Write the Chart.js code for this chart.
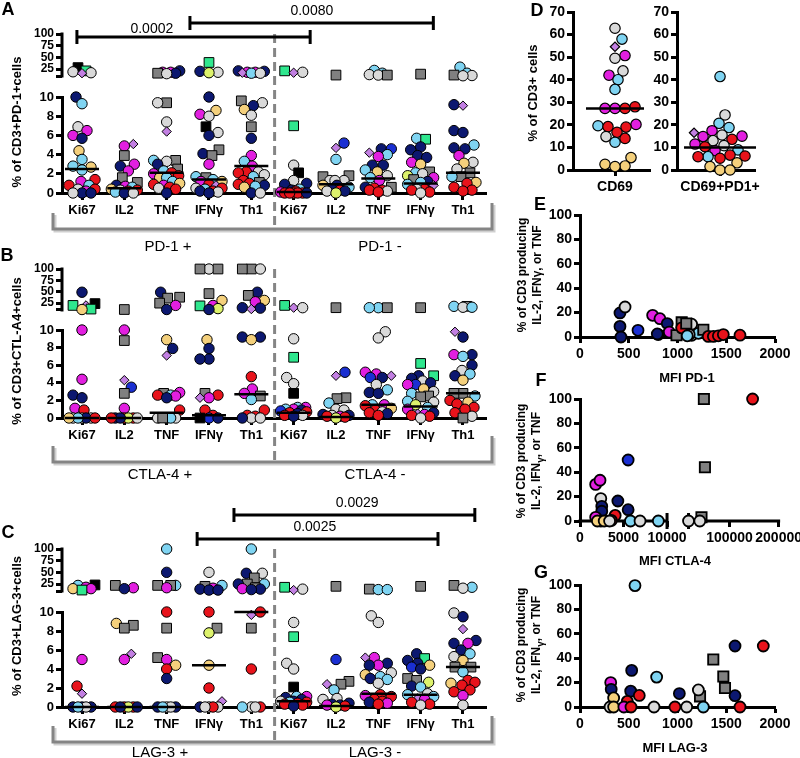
<!DOCTYPE html>
<html>
<head>
<meta charset="utf-8">
<script src="https://cdn.jsdelivr.net/npm/chart.js@4.4.0/dist/chart.umd.min.js"></script>
<style>
  body { margin: 0; background: #fff; }
  #fig { position: relative; width: 800px; height: 758px; overflow: hidden; font-family: "Liberation Sans", Arial, sans-serif; color: #000; }
  canvas { position: absolute; }
  .t { position: absolute; transform: translate(-50%, -50%); white-space: nowrap; }
  .rot { transform: translate(-50%, -50%) rotate(-90deg); text-align: center; }
  .letter { font-weight: bold; font-size: 18px; }
  .ytitle { font-weight: bold; font-size: 13px; }
  .ytitle2 { font-weight: bold; font-size: 12px; line-height: 15px; }
  .xtitle { font-weight: bold; font-size: 13px; }
  .group { font-size: 15px; }
</style>
</head>
<body>
<div id="fig">
  <canvas id="cA" width="500" height="260" style="left:0;top:0"></canvas>
  <canvas id="cB" width="500" height="250" style="left:0;top:230px"></canvas>
  <canvas id="cC" width="500" height="278" style="left:0;top:480px"></canvas>
  <canvas id="cD1" width="120" height="200" style="left:540px;top:0"></canvas>
  <canvas id="cD2" width="150" height="200" style="left:650px;top:0"></canvas>
  <canvas id="cE" width="255" height="190" style="left:545px;top:200px"></canvas>
  <canvas id="cF" width="260" height="170" style="left:545px;top:385px"></canvas>
  <canvas id="cG" width="255" height="188" style="left:545px;top:570px"></canvas>

  <div class="t letter" style="left:8px;top:9px">A</div>
  <div class="t letter" style="left:7px;top:255px">B</div>
  <div class="t letter" style="left:8px;top:532px">C</div>
  <div class="t letter" style="left:537px;top:10px">D</div>
  <div class="t letter" style="left:540px;top:204px">E</div>
  <div class="t letter" style="left:541px;top:380px">F</div>
  <div class="t letter" style="left:541px;top:572px">G</div>

  <div class="t rot ytitle" style="left:16px;top:122px">% of CD3+PD-1+cells</div>
  <div class="t rot ytitle" style="left:16px;top:351px">% of CD3+CTL-A4+cells</div>
  <div class="t rot ytitle" style="left:16px;top:626px">% of CD3+LAG-3+cells</div>
  <div class="t rot ytitle" style="left:532px;top:93px">% of CD3+ cells</div>
  <div class="t rot ytitle2" style="left:530px;top:275px">% of CD3 producing<br>IL-2, IFNγ, or TNF</div>
  <div class="t rot ytitle2" style="left:531px;top:461px">% of CD3 producing<br>IL-2, IFN<sub>γ</sub>, or TNF</div>
  <div class="t rot ytitle2" style="left:531px;top:645px">% of CD3 producing<br>IL-2, IFN<sub>γ</sub>, or TNF</div>

  <div class="t xtitle" style="left:687px;top:377px">MFI PD-1</div>
  <div class="t xtitle" style="left:675px;top:560px">MFI CTLA-4</div>
  <div class="t xtitle" style="left:675px;top:747px">MFI LAG-3</div>

  <div class="t group" style="left:168px;top:245px">PD-1 +</div>
  <div class="t group" style="left:380px;top:245px">PD-1 -</div>
  <div class="t group" style="left:160px;top:473px">CTLA-4 +</div>
  <div class="t group" style="left:375px;top:473px">CTLA-4 -</div>
  <div class="t group" style="left:160px;top:751px">LAG-3 +</div>
  <div class="t group" style="left:375px;top:751px">LAG-3 -</div>
</div>

<script>
// ---- data ----
// categories on the x axis of A, B and C (first five: marker +, last five: marker -)
const cats = ['Ki67', 'IL2', 'TNF', 'IFNγ', 'Th1', 'Ki67', 'IL2', 'TNF', 'IFNγ', 'Th1'];

// each token = donor code + value (%)
const aPoints = [
  ['K28','T21','W19','W17','D16','N10','C9.3','W6.9','M6.5','M6','N5.7','Y4.4','C3.5','C2.8','Y2.7','C2.4','R1.4','M1.2','R0.8','C0.8','W0.4','R0.4','M0.2','N0','N0','W0'],
  ['D5.1','M4.9','G3.9','M3','N2.8','M2.3','G1.6','G1.1','N0.8','M0.7','C0.6','Y0.4','W0.3','R0.3','R0.2','C0.1','N0','W0'],
  ['N21','M18','M18','N16','G16','W15','G9.4','W9.4','W7.4','D6.4','G3.4','C3.4','W3.3','N3','G2.5','C2.3','R2.1','M2','R1.8','Y1.6','C1.6','C1.2','Y1','R0.9','M0.8','R0.6','W0.5','R0.4','N0'],
  ['T39','N20','W18','L17','N10','Y8.6','M8.2','W8','K6.9','W6.3','N6','G4.5','N4.1','G3.9','M3','C1.7','G1.6','C1.4','M1.2','Y1.2','R0.9','D0.8','R0.5','W0.5','C0.4','N0.2','R0.2','W0.1','N0'],
  ['N21','N20','M18','M18','D17','C16','W16','G9.6','W9.4','N9.1','Y8.7','W8.1','G6.9','N5.7','M3.9','C3.3','M2.8','R2.2','W2.2','R2.1','W1.9','C1.7','R1.3','G1.1','R1','R0.9','N0.8','C0.7','Y0.6','N0','W0'],
  ['T21','W18','D17','T7','W2.9','K2.1','W1.3','N1','N0.9','C0.4','N0.3','R0.2','M0.1','R0','R0','R0','R0','R0','N0'],
  ['G12','B5.2','D4.7','C3.5','G1.8','G1.7','W1.3','W1.3','W1.3','Y0.8','N0.8','C0.6','N0.4','R0.3','N0.2','W0.2','L0'],
  ['C22','C16','W13','W12','G12','N4.6','B4.6','D4.2','C4','M3.8','N2.9','N2.9','C2.4','Y2.2','W1.8','C1.6','M1.3','G0.6','N0.6','R0.5','R0.3','R0.3','W0.2','R0.1'],
  ['G14','C5.7','T5.6','N4.8','N4.5','N3.9','N3.7','M3.2','Y3','G2.2','C2.1','W2','L1.8','M1.6','G1.4','N1.2','C1.1','C0.9','D0.8','R0.4','W0.4','R0.3','R0.1','W0'],
  ['C29','C16','G12','W11','W10.5','N9.2','D9.1','N6.5','N6.3','C5','N4.7','N4.6','M3.9','W3.2','Y3.1','W2.5','G2.1','G1.7','C1.7','Y1.1','R1','R0.6','R0.3','R0.2']
];
const aMedians = [2.5, 0.5, 2.1, 1.4, 2.8, 0.1, 0.9, 1.5, 1.0, 2.1];

const bPoints = [
  ['N49','K24','T20','D20','T12','Y11','M10','M4.4','N2.6','N2.3','M1.1','R0.9','W0','W0','W0','N0','C0','R0','Y0'],
  ['G11','M10','G8.8','D4.3','B3.5','G2.8','M1.1','R0','R0','N0','L0','N0','W0','R0'],
  ['N49','G38','G36','G25','M20','N11','Y8.9','N7.9','D7.1','M2.9','G2.8','R2.6','C2.6','M2.5','N2.3','R0.9','W0','W0','W0','C0','G0'],
  ['W100','G100','G100','G46','Y31','M20','T19','L13','N11','Y8.9','N7.9','N6.7','N6.7','G2.8','R2.6','M2.3','D2.3','R0.9','R0.3','B0','N0','K0'],
  ['G100','G100','W100','N49','G42','Y31','M28','N15','N14','D12','N9.2','N9.2','Y8.9','R4.7','M3.3','M2.8','G2.5','C2.1','R0.9','R0.3','R0.2','W0','W0','N0'],
  ['T20','D15','W15','W9','T6.9','W4.6','W3.9','K2.8','M1.2','C1.2','M1','C1','N0.9','B0.8','R0.7','R0.6','N0.5','W0.3','R0.3','N0.2'],
  ['G15','B5.2','D4.8','G2.3','G2.2','C1.7','W1','W0.9','N0.4','W0.3','N0.3','R0.2','M0.2','R0.1','L0'],
  ['C15','G15','C15','W9.8','W9.1','M5.2','M5','D4.8','N4.6','B4.6','W3.8','C3.2','N2.9','N2.8','M1.5','C1.5','R1.4','Y1.1','R0.9','W0.7','R0.6','N0.5','R0.3'],
  ['G15','T6.2','T4.8','N4.8','N4.5','W4.2','N4','B3.8','M3.8','Y3.3','W3','C2.8','G2.5','G2.4','C1.9','W1.8','L1.5','C1.2','M1','N0.6','D0.5','M0.4','R0.3','R0.2','W0'],
  ['C18','G18','W16','C16','D9.8','N9.2','N7.2','M7.2','C7','N6','W5.4','C5','N4.8','Y4.3','G2.8','G2.8','C2.5','R2','Y1.8','R1.6','R1.2','R1','R0.6','W0.2','G0']
];
const bMedians = [0, 0, 0.6, 0.3, 2.7, 0.6, 0.1, 1.5, 1.3, 2.8];

const cPoints = [
  ['K23','C22','M18','M15','Y15','T12','M5','R2.2','D1.4','N0','N0','N0','W0','C0'],
  ['G22','M17','N15','Y8.8','G8.6','G8.3','D5.6','M5','R0','R0','R0','L0','N0','N0'],
  ['C100','N50','C22','G22','G22','M17','R10','G8.3','G5.2','M5','Y4.4','R4','N3','W0','N0','N0','W0','C0'],
  ['W50','C22','G20','M16','N14','N12','N12','R10','G8.3','L7.8','Y4.4','R2','D0.6','W0','W0','N0','R0','W0'],
  ['C100','N48','W48','G38','G25','C25','N25','G17','M15','N14','N13','R10','D9.7','G8.3','R4','W0','R0','C0','W0'],
  ['T18','W14','D12','W8.9','T7.4','W4.6','W4','K2.1','M1.1','C1.1','N1','N0.8','W0.6','N0.6','C0.5','R0.5','R0.4','R0.3','R0.2','N0.1'],
  ['G20','B5','G2.7','G2.4','D2.4','C1.8','W0.9','W0.8','N0.4','N0.3','M0.2','N0.2','R0.1','L0'],
  ['G14','C13','C13','W9.6','W8.9','M5.2','D5.2','N4.6','M4.4','N4.4','W3.6','Y3.4','C3.2','N3','C2.9','W2.5','R1.3','M1.2','R1.1','R0.8','R0.6','N0.5','M0.4','R0.3'],
  ['G20','N5.6','T5.1','N4.9','N4.6','Y4.4','B4.2','N4','G3','G2.8','L2.6','N2.2','C2.1','W1.4','C1.3','C1.1','D0.9','M0.8','R0.5','R0.3','W0.2'],
  ['G22','C18','W16','W9.9','N9.5','D8.2','N7','M6.7','N6.7','N6','C5.6','W5.3','Y4.9','G4.2','G4.2','C3.7','R2.8','R2.6','Y2.5','R2.3','R1.8','R1.6','M1.2','W0.2']
];
const cMedians = [0, 0, 0, 4.4, 10, 0.6, 0.1, 1.4, 1.3, 4.2];

// D: % of CD3+ cells
const dCd69 = ['W62.8','C58','D54.6','M50.7','W49.5','W43.9','M42','C40','C35.7','R28','M27.3','R27.3','M27.3','M20.2','C19.6','R19.2','R19','R16.7','W14.8','R14','C12.3','Y5.5','Y2.5','Y1.8','Y1.5'];
const dCd69Pd1 = ['C41.4','W24.4','C20.7','C18.8','M17.4','D16.5','W15.5','M15','M14.8','R13.6','W13','M11.5','W10.8','R10.3','C8.9','M8.6','R6.6','R6.2','C5.9','R5.9','R5.2','Y3.2','Y1.5','Y0','Y0'];
const dMedians = [27.3, 10];

// E: MFI PD-1 vs % producing
const eMfi = [410, 462, 410, 420, 595, 745, 820, 895, 915, 803, 793, 990, 1043, 1043, 1145, 1090, 1145, 1214, 1265, 1120, 1100, 1316, 1368, 1419, 1470, 1641];
const ePct = [19.7, 24.6, 8.7, 0, 5.5, 17.8, 15, 11, 4, 2, 2.5, 1.5, 12, 7.5, 10.5, 11, 1.4, 3, 6, 2, 1, 0.5, 0.5, 1, 2, 1.5];
const eDonor = 'NWNNBMMNMYNGGRWGWCGWCRRRRR';

// F: MFI CTLA-4 vs % producing
const fMfi = [1800, 2300, 2390, 2500, 2500, 4350, 5530, 5530, 4040, 3600, 1800, 2400, 2000, 2780, 5800, 6900, 9000, 3400, 47900, 50000, 43000, 39600, 16667, 147000];
const fPct = [30, 33.4, 18.4, 12, 8, 16.4, 50, 9.3, 4.6, 0.5, 3, 0, 0, 0, 0, 0, 0, 0, 100, 44, 3, 0, 0, 100];
const fDonor = 'MMWNNNBNRRMWYYCWCWGGGWWR';

// G: MFI LAG-3 vs % producing
const gMfi = [564, 1590, 1880, 1367, 1470, 1487, 1231, 786, 530, 315, 320, 520, 345, 608, 485, 1214, 1019, 1590, 308, 345, 450, 523, 759, 974, 1094, 1641, 1265];
const gPct = [99.5, 50, 50, 39, 25, 15.5, 8.7, 24.5, 30, 20, 14.5, 13, 7.4, 9.5, 4.6, 14, 11, 9.3, 0, 0, 0, 0, 0, 0, 0, 0, 0];
const gDonor = 'CNRGGGGCNMNNYRRWNNWYMRWRWRC';

// ---- styles ----
const FONT = '"Liberation Sans", Arial, sans-serif';
Chart.defaults.font.family = FONT;
Chart.defaults.color = '#000';
Chart.defaults.animation = false;

const donors = {
  R: ['#e8131b', 'circle'],
  N: ['#0c1870', 'circle'],
  B: ['#1a2fd2', 'circle'],
  C: ['#7fd4f2', 'circle'],
  W: ['#d9d9d9', 'circle'],
  G: ['#808080', 'rect'],
  M: ['#e21fe0', 'circle'],
  Y: ['#f4d07c', 'circle'],
  L: ['#ddf26c', 'circle'],
  T: ['#2fe78e', 'rect'],
  D: ['#c27fe2', 'rectRot'],
  K: ['#000000', 'rect']
};

function pointOpts(r, bw) {
  const st = c => donors[(c.raw && c.raw.d) || 'W'];
  return {
    pointStyle: c => st(c)[1],
    pointRadius: c => { const s = st(c)[1]; return s === 'rect' ? r * 1.32 : s === 'rectRot' ? r * 0.9 : r; },
    pointBackgroundColor: c => st(c)[0],
    pointBorderColor: '#000',
    pointBorderWidth: bw,
    clip: false
  };
}

function seg(ctx, pts) {
  ctx.beginPath();
  pts.forEach(([px, py], i) => i ? ctx.lineTo(px, py) : ctx.moveTo(px, py));
  ctx.stroke();
}

// spread points sideways so they don't pile up (pixel units)
function swarm(list, k, minD, maxOff) {
  const order = list.map((p, i) => i).sort((i, j) => list[i].v - list[j].v);
  const placed = [], off = [];
  order.forEach((i, n) => {
    const py = list[i].v * k;
    let best = 0, bestGap = -1, done = false;
    for (let s = 0; s <= maxOff && !done; s++) {
      for (const o of (s ? (n % 2 ? [s, -s] : [-s, s]) : [0])) {
        let gap = Infinity;
        for (const q of placed) gap = Math.min(gap, Math.hypot(o - q[0], py - q[1]));
        if (gap >= minD) { best = o; done = true; break; }
        if (gap > bestGap) { bestGap = gap; best = o; }
      }
    }
    placed.push([best, py]);
    off[i] = best;
  });
  return off;
}

const parse = t => ({d: t[0], v: parseFloat(t.slice(1))});
const tickFont = (size) => ({size: size, weight: 'bold'});
const tickGrid = (len) => ({display: true, drawOnChartArea: false, drawTicks: true, tickLength: len, tickWidth: 3, color: '#000', tickColor: '#000'});

// ---- A, B, C: broken-axis dot plots ----
const KX = 42.33;
function dotPanel(id, points, medians, cfg) {
  const kTop = cfg.topH / (100 - cfg.topMin), kBot = cfg.botH / 10;
  const top = [], bot = [];
  points.forEach((list, ci) => {
    const pts = list.map(parse);
    [[pts.filter(p => p.v <= 10), kBot, bot], [pts.filter(p => p.v > 10), kTop, top]].forEach(([arr, k, out]) => {
      const off = swarm(arr, k, 9, 13);
      arr.forEach((p, i) => out.push({x: ci + off[i] / KX, y: p.v, d: p.d}));
    });
  });

  const deco = {
    id: 'dotDeco',
    beforeDatasetsDraw(chart) {
      const {ctx, chartArea: a} = chart;
      const {yTop} = chart.scales;
      ctx.save();
      ctx.strokeStyle = '#000';
      ctx.lineWidth = 3;
      seg(ctx, [[a.left, yTop.getPixelForValue(100) - 1.5], [a.left, yTop.getPixelForValue(10) + 1.5]]);
      // group bracket under the labels
      const by = a.bottom + cfg.brY, bl = a.left - 9, br = a.right + 6;
      ctx.strokeStyle = '#cfcfcf';
      seg(ctx, [[bl + 2, by - 14], [bl + 2, by + 2], [br + 2, by + 2], [br + 2, by - 24]]);
      ctx.strokeStyle = '#858585';
      seg(ctx, [[bl, by - 16], [bl, by], [br, by], [br, by - 26]]);
      ctx.setLineDash([9, 5]);
      const dx = chart.scales.x.getPixelForValue(4.55);
      seg(ctx, [[dx, a.top], [dx, by]]);
      ctx.restore();
    },
    afterDatasetsDraw(chart) {
      const {ctx, chartArea: a} = chart;
      const {x, yTop, yBot} = chart.scales;
      ctx.save();
      ctx.strokeStyle = '#000';
      ctx.lineWidth = 2.5;
      medians.forEach((m, i) => {
        const py = (m > 10 ? yTop : yBot).getPixelForValue(m), px = x.getPixelForValue(i);
        seg(ctx, [[px - 17, py], [px + 17, py]]);
      });
      ctx.lineWidth = 3;
      ctx.fillStyle = '#000';
      ctx.font = '14px ' + FONT;
      ctx.textAlign = 'center';
      ctx.textBaseline = 'middle';
      cfg.sig.forEach(b => {
        const py = a.top - b.dy, x1 = x.getPixelForValue(b.from), x2 = x.getPixelForValue(b.to);
        seg(ctx, [[x1, py], [x2, py]]);
        seg(ctx, [[x1, py - 7], [x1, py + 7]]);
        seg(ctx, [[x2, py - 7], [x2, py + 7]]);
        ctx.fillText(b.text, x.getPixelForValue(b.at), py - b.ly);
      });
      ctx.restore();
    }
  };

  new Chart(document.getElementById(id), {
    type: 'scatter',
    data: {datasets: [
      {data: bot, yAxisID: 'yBot', ...pointOpts(5.2, 1)},
      {data: top, yAxisID: 'yTop', ...pointOpts(5.2, 1)}
    ]},
    options: {
      responsive: false,
      events: [],
      layout: {padding: cfg.pad},
      plugins: {legend: {display: false}, tooltip: {enabled: false}},
      scales: {
        x: {
          type: 'linear', min: -0.4725, max: 9.544,
          afterBuildTicks: s => { s.ticks = cats.map((c, i) => ({value: i})); },
          afterFit: s => { s.height = 30; },
          ticks: {callback: v => cats[v], font: tickFont(13), padding: 3, autoSkip: false, maxRotation: 0},
          grid: tickGrid(7),
          border: {display: true, width: 3, color: '#000'}
        },
        yBot: {
          type: 'linear', position: 'left', stack: 'y', stackWeight: cfg.botH, min: 0, max: 10,
          afterBuildTicks: s => { s.ticks = [0, 2, 4, 6, 8, 10].map(v => ({value: v})); },
          afterFit: s => { s.width = 50; },
          ticks: {font: tickFont(13), padding: 2, autoSkip: false},
          grid: tickGrid(6),
          border: {display: true, width: 3, color: '#000'}
        },
        yTop: {
          type: 'linear', position: 'left', stack: 'y', stackWeight: cfg.topH, min: cfg.topMin, max: 100,
          afterBuildTicks: s => { s.ticks = [10, 25, 50, 75, 100].map(v => ({value: v})); },
          afterFit: s => { s.width = 50; },
          ticks: {font: tickFont(12), padding: 2, autoSkip: false, callback: v => v === 10 ? '' : String(v)},
          grid: tickGrid(6),
          border: {display: false}
        }
      }
    },
    plugins: [deco]
  });
}

dotPanel('cA', aPoints, aMedians, {
  topH: 63, botH: 96, topMin: -35, brY: 36,
  pad: {left: 12, right: 14, top: 34, bottom: 37},
  sig: [
    {from: -0.12, to: 5.39, at: 1.65, text: '0.0002', dy: -3, ly: 8},
    {from: 2.55, to: 8.3, at: 5.43, text: '0.0080', dy: 11, ly: 12}
  ]
});
dotPanel('cB', bPoints, bMedians, {
  topH: 61, botH: 88, topMin: -34, brY: 44,
  pad: {left: 12, right: 14, top: 39, bottom: 32},
  sig: []
});
dotPanel('cC', cPoints, cMedians, {
  topH: 63, botH: 95, topMin: -35, brY: 35,
  pad: {left: 12, right: 14, top: 69, bottom: 21},
  sig: [
    {from: 3.59, to: 9.28, at: 6.5, text: '0.0029', dy: 34, ly: 12},
    {from: 2.72, to: 8.41, at: 5.5, text: '0.0025', dy: 10, ly: 12}
  ]
});

// ---- D: CD69 dot plots ----
function dPanel(id, tokens, median, cfg) {
  const pts = tokens.map(parse);
  const off = swarm(pts, 158 / 70, 10, 26);
  const data = pts.map((p, i) => ({x: off[i] / 35, y: p.v, d: p.d}));
  const deco = {
    id: 'dDeco',
    afterDatasetsDraw(chart) {
      const {ctx} = chart;
      const {x, y} = chart.scales;
      const py = y.getPixelForValue(median), px = x.getPixelForValue(0);
      ctx.save();
      ctx.strokeStyle = '#000';
      ctx.lineWidth = 2.5;
      seg(ctx, [[px - cfg.half, py], [px + cfg.half, py]]);
      ctx.restore();
    }
  };
  new Chart(document.getElementById(id), {
    type: 'scatter',
    data: {datasets: [{data: data, ...pointOpts(5.2, 1.2)}]},
    options: {
      responsive: false,
      events: [],
      layout: {padding: cfg.pad},
      plugins: {legend: {display: false}, tooltip: {enabled: false}},
      scales: {
        x: {
          type: 'linear', min: cfg.xmin, max: 1,
          afterBuildTicks: s => { s.ticks = [{value: 0}]; },
          afterFit: s => { s.height = 30; },
          ticks: {callback: () => cfg.label, font: tickFont(14), padding: 3, maxRotation: 0},
          grid: tickGrid(6),
          border: {width: 3, color: '#000'}
        },
        y: {
          type: 'linear', min: 0, max: 70,
          ticks: {stepSize: 10, font: tickFont(14), padding: 2},
          afterFit: s => { s.width = cfg.yw; },
          grid: tickGrid(6),
          border: {width: 3, color: '#000'}
        }
      }
    },
    plugins: [deco]
  });
}
dPanel('cD1', dCd69, dMedians[0], {label: 'CD69', xmin: -1.2, yw: 33, half: 29, pad: {left: 0, right: 10, top: 12, bottom: 0}});
dPanel('cD2', dCd69Pd1, dMedians[1], {label: 'CD69+PD1+', xmin: -1.23, yw: 27, half: 36, pad: {left: 0, right: 45, top: 12, bottom: 0}});

// ---- E, F, G: MFI scatter plots ----
function xAxis(min, max, ticks, extra) {
  return Object.assign({
    type: 'linear', position: 'bottom', min: min, max: max,
    afterBuildTicks: s => { s.ticks = ticks.map(v => ({value: v})); },
    afterFit: s => { s.height = 30; },
    ticks: {font: tickFont(14), padding: 3, autoSkip: false, maxRotation: 0, callback: v => String(v)},
    grid: tickGrid(6),
    border: {width: 3, color: '#000'}
  }, extra || {});
}
const yPct = {
  type: 'linear', min: 0, max: 100,
  ticks: {stepSize: 20, font: tickFont(14), padding: 2},
  afterFit: s => { s.width = 35; },
  grid: tickGrid(6),
  border: {width: 3, color: '#000'}
};
const baseOpts = (pad, scales) => ({
  responsive: false,
  events: [],
  layout: {padding: pad},
  plugins: {legend: {display: false}, tooltip: {enabled: false}},
  scales: scales
});
const toPts = (mfi, pct, donorStr) => mfi.map((m, i) => ({x: m, y: pct[i], d: donorStr[i]}));

new Chart(document.getElementById('cE'), {
  type: 'scatter',
  data: {datasets: [{data: toPts(eMfi, ePct, eDonor), ...pointOpts(5.5, 1.8)}]},
  options: baseOpts({left: 0, right: 25, top: 15, bottom: 23}, {
    x: xAxis(0, 2000, [0, 500, 1000, 1500, 2000]),
    y: yPct
  })
});

const fPts = toPts(fMfi, fPct, fDonor);
const fBreak = {
  id: 'fBreak',
  beforeDatasetsDraw(chart) {
    const {ctx, chartArea: a} = chart;
    const {x1, x2} = chart.scales;
    const y0 = a.bottom, e1 = x1.getPixelForValue(10000);
    ctx.save();
    ctx.strokeStyle = '#000';
    ctx.lineWidth = 3;
    seg(ctx, [[x1.getPixelForValue(0) - 1.5, y0], [e1, y0]]);
    seg(ctx, [[e1, y0 - 8], [e1, y0 + 8]]);
    seg(ctx, [[x2.left, y0], [x2.getPixelForValue(200000) + 1.5, y0]]);
    seg(ctx, [[x2.left, y0 - 8], [x2.left, y0 + 8]]);
    ctx.restore();
  }
};
new Chart(document.getElementById('cF'), {
  type: 'scatter',
  data: {datasets: [
    {data: fPts.filter(p => p.x <= 10000), xAxisID: 'x1', ...pointOpts(5.5, 1.8)},
    {data: fPts.filter(p => p.x > 10000), xAxisID: 'x2', ...pointOpts(5.5, 1.8)}
  ]},
  options: baseOpts({left: 0, right: 22, top: 14, bottom: 4}, {
    x1: xAxis(0, 12470, [0, 5000, 10000], {stack: 'x', stackWeight: 106, border: {display: false}}),
    x2: xAxis(16667, 200000, [100000, 200000], {stack: 'x', stackWeight: 88, border: {display: false}}),
    y: yPct
  }),
  plugins: [fBreak]
});

new Chart(document.getElementById('cG'), {
  type: 'scatter',
  data: {datasets: [{data: toPts(gMfi, gPct, gDonor), ...pointOpts(5.5, 1.8)}]},
  options: baseOpts({left: 0, right: 25, top: 15, bottom: 21}, {
    x: xAxis(0, 2000, [0, 500, 1000, 1500, 2000]),
    y: yPct
  })
});
</script>
</body>
</html>
